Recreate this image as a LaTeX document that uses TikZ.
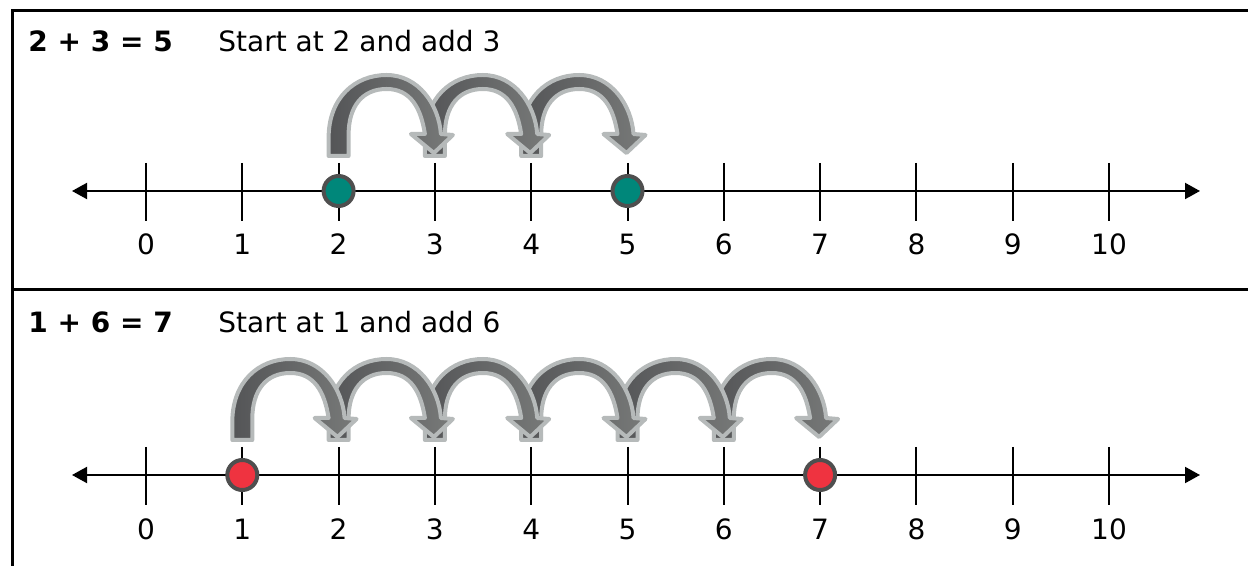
\documentclass[tikz,border=0pt]{standalone}
\usepackage{fontspec}
\setmainfont{DejaVu Sans}
\usetikzlibrary{arrows.meta}
\definecolor{bordgray}{HTML}{B6BABA}
\definecolor{darkfill}{HTML}{545557}
\definecolor{midfill}{HTML}{787A79}
\definecolor{ringgray}{HTML}{4F4F4F}
\definecolor{dotteal}{HTML}{00877A}
\definecolor{dotred}{HTML}{EF3340}
\tikzset{
  frameline/.style={line width=1.5pt, draw=black},
  numline/.style={line width=1pt, draw=black, {Triangle[length=7.5pt,width=8pt]}-{Triangle[length=7.5pt,width=8pt]}},
  tickline/.style={line width=1pt, draw=black},
  lab/.style={anchor=base, inner sep=0pt, text=black},
  title/.style={anchor=base west, inner sep=0pt, text=black},
  dot/.style={circle, draw=ringgray, line width=2pt, minimum size=15pt, inner sep=0pt},
  hoparrow/.style={draw=bordgray, line width=2pt, line join=round, left color=darkfill, right color=midfill}
}
% #1 = start x, #2 = end x, #3 = vertical offset
\newcommand\hop[3]{%
  \path[hoparrow]
    ({#1-10},{#3+156}) -- ({#1-10},{#3+138})
    .. controls ({#1-10},{#3+98}) and ({#1+16},{#3+75}) .. ({#1+48},{#3+75})
    .. controls ({#1+80},{#3+75}) and ({#2+4},{#3+105}) .. ({#2+6},{#3+134})
    -- ({#2+18},{#3+135}) -- ({#2-1},{#3+153}) -- ({#2-24},{#3+134}) -- ({#2-10},{#3+134})
    .. controls ({#2-14},{#3+108}) and ({#1+72},{#3+89}) .. ({#1+48},{#3+89})
    .. controls ({#1+24},{#3+89}) and ({#1+10},{#3+106}) .. ({#1+10},{#3+135})
    -- ({#1+10},{#3+156}) -- cycle;}
\begin{document}
\begin{tikzpicture}[x=0.5pt,y=-0.5pt, font=\fontsize{14}{16}\selectfont]
\useasboundingbox (0,0) rectangle (1248,566);
% frame
\coordinate (fbl) at (12,566);
\coordinate (ftl) at (12,11);
\coordinate (ftr) at (1248,11);
\coordinate (fml) at (12,290);
\coordinate (fmr) at (1248,290);
\draw[frameline] (fbl) -- (ftl) -- (ftr);
\draw[frameline] (fml) -- (fmr);
% titles
\node[title, font=\fontsize{14}{16}\selectfont\bfseries] (eqA) at (28,52) {2 + 3 = 5};
\node[title] (txtA) at (218,52) {Start at 2 and add 3};
\node[title, font=\fontsize{14}{16}\selectfont\bfseries] (eqB) at (28,333) {1 + 6 = 7};
\node[title] (txtB) at (218,333) {Start at 1 and add 6};
% number lines
\foreach \p/\oy in {A/0, B/284} {
  \coordinate (L\p) at (72,191+\oy);
  \coordinate (R\p) at (1200,191+\oy);
  \draw[numline] (L\p) -- (R\p);
  \foreach \i in {0,...,10} {
    \pgfmathsetmacro\xx{146+96.3*\i}
    \coordinate (t\p\i a) at (\xx,163+\oy);
    \coordinate (t\p\i b) at (\xx,221+\oy);
    \draw[tickline] (t\p\i a) -- (t\p\i b);
    \node[lab] (n\p\i) at (\xx,255+\oy) {\i};
  }
}
% hops panel A (drawn last-first)
\hop{531.2}{627.5}{0}
\hop{434.9}{531.2}{0}
\hop{338.6}{434.9}{0}
% hops panel B
\hop{723.8}{820.1}{284}
\hop{627.5}{723.8}{284}
\hop{531.2}{627.5}{284}
\hop{434.9}{531.2}{284}
\hop{338.6}{434.9}{284}
\hop{242.3}{338.6}{284}
% dots
\node[dot, fill=dotteal] (dA2) at (338.6,191) {};
\node[dot, fill=dotteal] (dA5) at (627.5,191) {};
\node[dot, fill=dotred] (dB1) at (242.3,475) {};
\node[dot, fill=dotred] (dB7) at (820.1,475) {};
\end{tikzpicture}
\end{document}
